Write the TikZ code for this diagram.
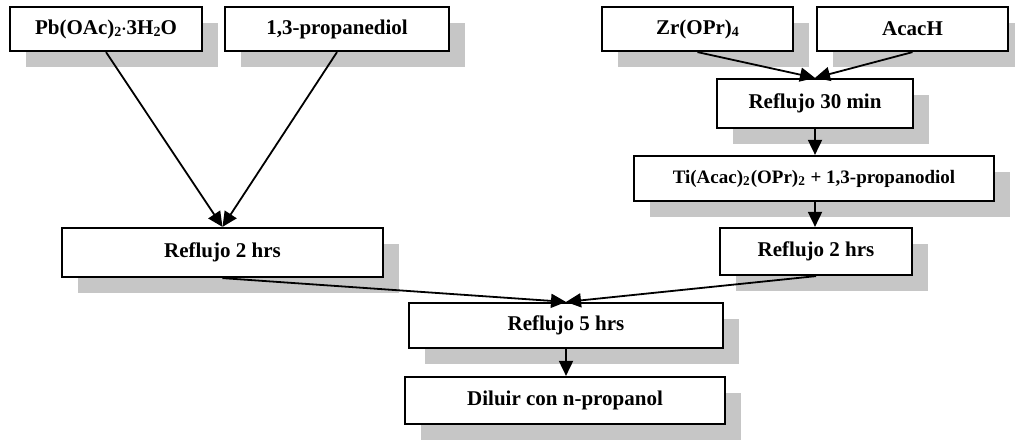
\documentclass[tikz,border=0pt]{standalone}
\usepackage{fontspec}
\setmainfont{Liberation Serif}
\usetikzlibrary{arrows.meta,shadows}
\newcommand{\chemsub}[1]{\raisebox{-0.3ex}{\fontsize{7}{8}\selectfont #1}}
\begin{document}
\begin{tikzpicture}[x=0.5pt,y=-0.5pt,
  stepbox/.style={draw=black, line width=1.1pt, fill=white, inner sep=0pt,
    font=\bfseries\fontsize{10.5}{12}\selectfont,
    drop shadow={shadow xshift=8pt, shadow yshift=-8pt, fill=gray!45, opacity=1}},
  flow/.style={draw=black, line width=0.9pt, -{Triangle[length=7.5pt,width=7pt]}}]
\useasboundingbox (0,0) rectangle (1015,441);

% starting reagents
\node[stepbox, minimum width=96pt,   minimum height=22pt] (pb) at (106,29)   {Pb(OAc)\chemsub{2}{\fontsize{8}{8}\selectfont·}3H\chemsub{2}O};
\node[stepbox, minimum width=112pt,  minimum height=22pt] (pd) at (337,29)   {1,3-propanediol};
\node[stepbox, minimum width=95.5pt, minimum height=22pt] (zr) at (697.5,29) {Zr(OPr)\chemsub{4}};
\node[stepbox, minimum width=95.5pt, minimum height=22pt] (ac) at (912.5,29) {AcacH};

% zirconium / titanium branch
\node[stepbox, minimum width=98pt,  minimum height=24.5pt] (r30) at (815,103.5) {Reflujo 30 min};
\node[stepbox, minimum width=180pt, minimum height=22.5pt,
      font=\bfseries\fontsize{9.5}{11}\selectfont] (ti) at (814,178.5)
      {Ti(Acac)\textsubscript{2}(OPr)\textsubscript{2} + 1,3-propanodiol};
\node[stepbox, minimum width=96pt,  minimum height=23.5pt] (r2r) at (816,251.5) {Reflujo 2 hrs};

% lead branch
\node[stepbox, minimum width=160.5pt, minimum height=24.5pt] (r2l) at (222.5,252.5) {Reflujo 2 hrs};

% combined solution
\node[stepbox, minimum width=157pt, minimum height=22.5pt] (r5)  at (566,325.5) {Reflujo 5 hrs};
\node[stepbox, minimum width=160pt, minimum height=23.5pt] (dil) at (565,400.5) {Diluir con n-propanol};

% connectors
\draw[flow] (pb.south) -- (r2l.north);
\draw[flow] (pd.south) -- (r2l.north);
\draw[flow] (zr.south) -- (r30.north);
\draw[flow] (ac.south) -- (r30.north);
\draw[flow] (r30.south) -- (r30.south |- ti.north);
\draw[flow] (r30.south |- ti.south) -- (r30.south |- r2r.north);
\draw[flow] (r2l.south) -- (r5.north);
\draw[flow] (r2r.south) -- (r5.north);
\draw[flow] (r5.south) -- (r5.south |- dil.north);
\end{tikzpicture}
\end{document}
